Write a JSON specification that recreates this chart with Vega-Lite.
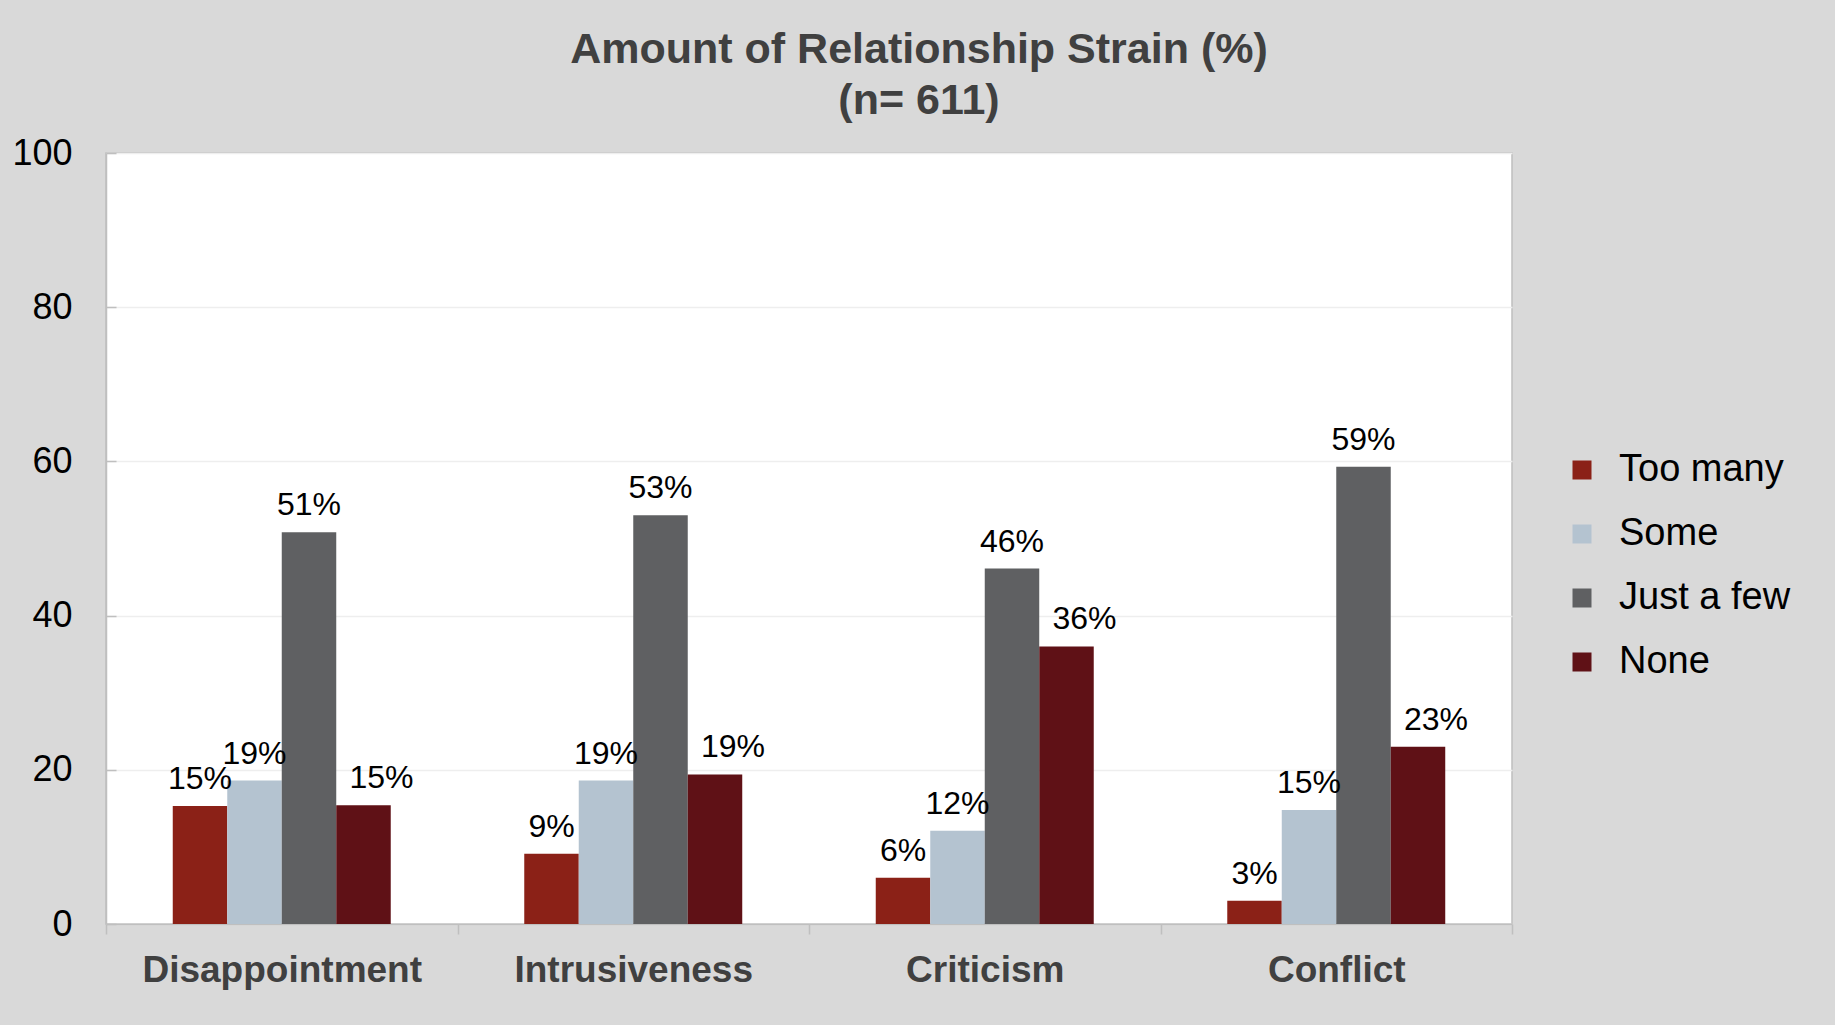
{
  "$schema": "https://vega.github.io/schema/vega-lite/v6.json",
  "width": 1406,
  "height": 771,
  "autosize": {"type": "none"},
  "padding": {"left": 106, "top": 153, "right": 323, "bottom": 101},
  "background": "#d9d9d9",
  "title": {
    "text": ["Amount of Relationship Strain (%)", "(n= 611)"],
    "anchor": "middle",
    "frame": "group",
    "dx": 110,
    "fontSize": 43,
    "fontWeight": "bold",
    "color": "#404040",
    "font": "Liberation Sans",
    "lineHeight": 51,
    "offset": 12
  },
  "data": {
    "values": [
      {"category": "Disappointment", "series": "Too many", "value": 15.3, "label": "15%"},
      {"category": "Disappointment", "series": "Some", "value": 18.6, "label": "19%"},
      {"category": "Disappointment", "series": "Just a few", "value": 50.8, "label": "51%"},
      {"category": "Disappointment", "series": "None", "value": 15.4, "label": "15%"},
      {"category": "Intrusiveness", "series": "Too many", "value": 9.1, "label": "9%"},
      {"category": "Intrusiveness", "series": "Some", "value": 18.6, "label": "19%"},
      {"category": "Intrusiveness", "series": "Just a few", "value": 53.0, "label": "53%"},
      {"category": "Intrusiveness", "series": "None", "value": 19.4, "label": "19%"},
      {"category": "Criticism", "series": "Too many", "value": 6.0, "label": "6%"},
      {"category": "Criticism", "series": "Some", "value": 12.1, "label": "12%"},
      {"category": "Criticism", "series": "Just a few", "value": 46.1, "label": "46%"},
      {"category": "Criticism", "series": "None", "value": 36.0, "label": "36%"},
      {"category": "Conflict", "series": "Too many", "value": 3.0, "label": "3%"},
      {"category": "Conflict", "series": "Some", "value": 14.8, "label": "15%"},
      {"category": "Conflict", "series": "Just a few", "value": 59.3, "label": "59%"},
      {"category": "Conflict", "series": "None", "value": 23.0, "label": "23%"}
    ]
  },
  "encoding": {
    "x": {
      "field": "category",
      "type": "nominal",
      "sort": ["Disappointment", "Intrusiveness", "Criticism", "Conflict"],
      "scale": {"paddingInner": 0, "paddingOuter": 0},
      "axis": {
        "title": null,
        "labelAngle": 0,
        "labelFontSize": 37,
        "labelFontWeight": "bold",
        "labelColor": "#404040",
        "labelFont": "Liberation Sans",
        "labelLimit": 0,
        "labelPadding": 18,
        "tickBand": "extent",
        "ticks": true,
        "tickSize": 10,
        "tickColor": "#bfbfbf",
        "tickWidth": 1.5,
        "domainColor": "#bfbfbf",
        "domainWidth": 1.5,
        "grid": false
      }
    },
    "xOffset": {
      "field": "series",
      "type": "nominal",
      "scale": {
        "domain": ["_pad1", "Too many", "Some", "Just a few", "None", "_pad2"],
        "paddingInner": 0,
        "paddingOuter": 0.225
      }
    },
    "y": {
      "field": "value",
      "type": "quantitative",
      "scale": {"domain": [0, 100]},
      "axis": {
        "title": null,
        "values": [0, 20, 40, 60, 80, 100],
        "labelFontSize": 36,
        "labelColor": "#000000",
        "labelFont": "Liberation Sans",
        "labelPadding": 44,
        "ticks": true,
        "tickSize": -10,
        "tickColor": "#bfbfbf",
        "tickWidth": 1.5,
        "domainColor": "#bfbfbf",
        "domainWidth": 1.5,
        "grid": true,
        "gridColor": "#eeeeee",
        "gridWidth": 1.5
      }
    }
  },
  "layer": [
    {
      "mark": {"type": "bar"},
      "encoding": {
        "color": {
          "field": "series",
          "type": "nominal",
          "scale": {
            "domain": ["Too many", "Some", "Just a few", "None"],
            "range": ["#8b2117", "#b4c3d0", "#5f6062", "#5f1116"]
          },
          "legend": {
            "title": null,
            "orient": "none",
            "legendX": 1457,
            "legendY": 298,
            "symbolType": "square",
            "symbolSize": 361,
            "symbolStrokeWidth": 0,
            "labelFontSize": 38,
            "labelFont": "Liberation Sans",
            "labelColor": "#000000",
            "labelLimit": 0,
            "labelOffset": 18,
            "rowPadding": 26,
            "padding": 0
          }
        }
      }
    },
    {
      "transform": [{"filter": "datum.series !== 'None'"}],
      "mark": {
        "type": "text",
        "baseline": "alphabetic",
        "dy": -17,
        "fontSize": 32,
        "font": "Liberation Sans",
        "color": "#000000"
      },
      "encoding": {
        "text": {"field": "label", "type": "nominal"}
      }
    },
    {
      "transform": [{"filter": "datum.series === 'None'"}],
      "mark": {
        "type": "text",
        "baseline": "alphabetic",
        "dy": -17,
        "dx": 18,
        "fontSize": 32,
        "font": "Liberation Sans",
        "color": "#000000"
      },
      "encoding": {
        "text": {"field": "label", "type": "nominal"}
      }
    }
  ],
  "config": {
    "view": {"stroke": "#bfbfbf", "strokeWidth": 1.5, "fill": "#ffffff"},
    "font": "Liberation Sans"
  }
}
